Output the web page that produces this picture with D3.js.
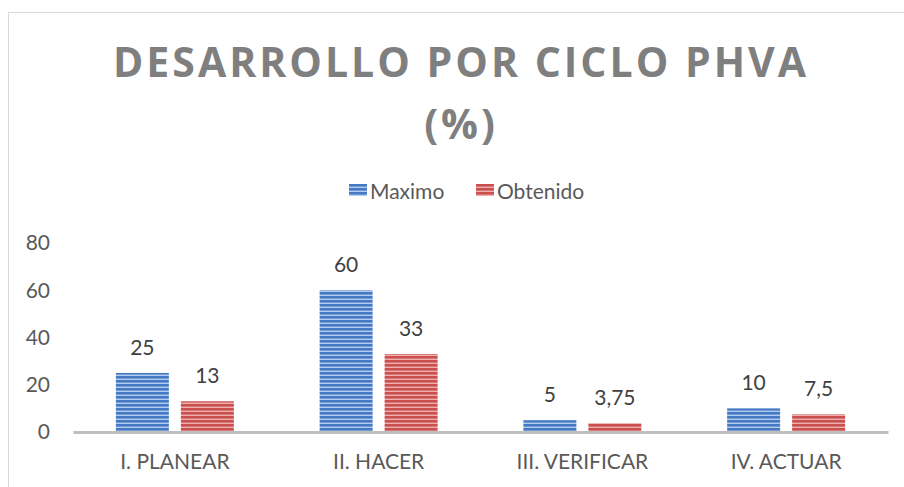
<!DOCTYPE html>
<html>
<head>
<meta charset="utf-8">
<script src="https://cdn.jsdelivr.net/npm/d3@7"></script>
<style>
  body { margin: 0; background: #fff; }
  text { font-family: Lato, "Open Sans", sans-serif; }
</style>
</head>
<body>
<script>
const width = 904, height = 487;

// data
const categories = ["I. PLANEAR", "II. HACER", "III. VERIFICAR", "IV. ACTUAR"];
const maximo = [25, 60, 5, 10];
const obtenido = [13, 33, 3.75, 7.5];
const seriesNames = ["Maximo", "Obtenido"];
const yTicks = [0, 20, 40, 60, 80];

const margin = {left: 73, right: 16, top: 243, bottom: 55};

const svg = d3.select("body").append("svg")
  .attr("width", width)
  .attr("height", height);

// striped fills
const defs = svg.append("defs");
function stripes(id, dark, light) {
  const p = defs.append("pattern")
    .attr("id", id)
    .attr("patternUnits", "userSpaceOnUse")
    .attr("width", 8).attr("height", 4);
  p.append("rect").attr("width", 8).attr("height", 4).attr("fill", dark);
  p.append("rect").attr("y", 2.6).attr("width", 8).attr("height", 1.4).attr("fill", light);
}
stripes("blueStripe", "#4679c4", "#b3cbed");
stripes("redStripe", "#c9504e", "#eeb0ae");
const fills = ["url(#blueStripe)", "url(#redStripe)"];

// chart frame
svg.append("rect")
  .attr("x", 8.5).attr("y", 12.5)
  .attr("width", 1000).attr("height", 1000)
  .attr("fill", "none")
  .attr("stroke", "#d9d9d9");

// title
const title = svg.append("text")
  .attr("text-anchor", "middle")
  .attr("fill", "#7f7f7f")
  .style("font-family", "'Open Sans', sans-serif")
  .style("font-weight", "bold")
  .style("font-size", "41px")
  .style("letter-spacing", "3px");
title.append("tspan").attr("x", 461).attr("y", 77).text("DESARROLLO POR CICLO PHVA");
title.append("tspan").attr("x", 461).attr("y", 139).text("(%)");

// scales
const x0 = d3.scaleBand()
  .domain(categories)
  .range([margin.left, width - margin.right]);

const x1 = d3.scaleBand()
  .domain(seriesNames)
  .range([0, x0.bandwidth()])
  .paddingInner(0.185)
  .paddingOuter(0.66);

const y = d3.scaleLinear()
  .domain([0, 80])
  .range([height - margin.bottom, margin.top]);

// y axis labels (no line)
svg.append("g").selectAll("text")
  .data(yTicks)
  .enter().append("text")
    .attr("x", 50)
    .attr("y", d => y(d))
    .attr("dy", "0.35em")
    .attr("text-anchor", "end")
    .attr("fill", "#595959")
    .style("font-size", "21px")
    .text(d => d);

// bars
const rows = categories.map((c, i) => ({cat: c, vals: [maximo[i], obtenido[i]]}));

const group = svg.selectAll("g.cat")
  .data(rows)
  .enter().append("g")
    .attr("class", "cat")
    .attr("transform", d => "translate(" + x0(d.cat) + ",0)");

group.selectAll("rect")
  .data(d => d.vals.map((v, j) => ({key: seriesNames[j], v: v, j: j})))
  .enter().append("rect")
    .attr("x", d => x1(d.key))
    .attr("y", d => y(d.v))
    .attr("width", x1.bandwidth())
    .attr("height", d => y(0) - y(d.v))
    .attr("fill", d => fills[d.j]);

group.selectAll("text.val")
  .data(d => d.vals.map((v, j) => ({key: seriesNames[j], v: v})))
  .enter().append("text")
    .attr("class", "val")
    .attr("x", d => x1(d.key) + x1.bandwidth() / 2)
    .attr("y", d => y(d.v) - 18)
    .attr("text-anchor", "middle")
    .attr("fill", "#404040")
    .style("font-size", "21px")
    .text(d => String(d.v).replace(".", ","));

// x axis
const xAxis = svg.append("g")
  .attr("transform", "translate(0," + y(0) + ")")
  .call(d3.axisBottom(x0).tickSize(0).tickPadding(22));
xAxis.select(".domain").attr("stroke", "#bfbfbf").attr("stroke-width", 3);
xAxis.selectAll("text")
  .attr("fill", "#595959")
  .style("font-family", "Lato, 'Open Sans', sans-serif")
  .style("font-size", "21px");

// legend
const legend = svg.append("g").attr("transform", "translate(349,192)");
const lx = [0, 127];
seriesNames.forEach((name, i) => {
  legend.append("rect")
    .attr("x", lx[i]).attr("y", -8)
    .attr("width", 18).attr("height", 12)
    .attr("fill", fills[i]);
  legend.append("text")
    .attr("x", lx[i] + 21).attr("y", 0)
    .attr("dy", "0.32em")
    .attr("fill", "#595959")
    .style("font-size", "21px")
    .text(name);
});
</script>
</body>
</html>
